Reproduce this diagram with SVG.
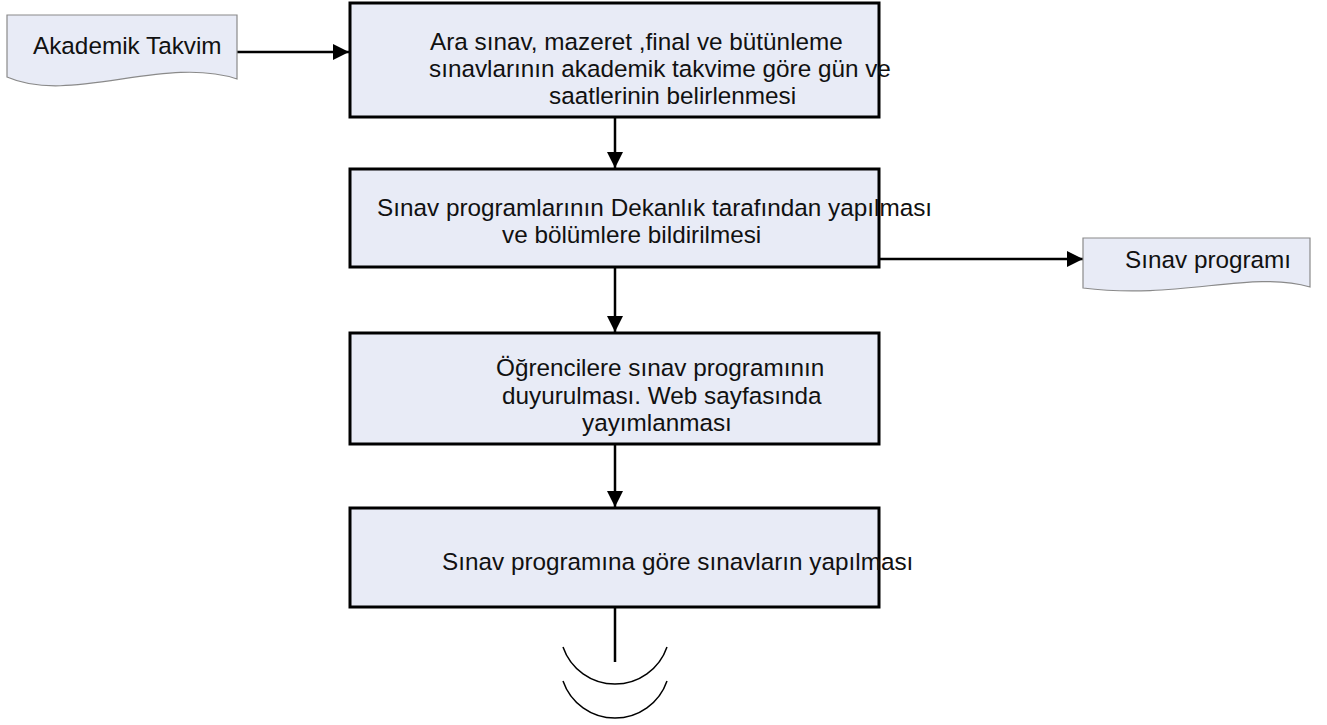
<svg xmlns="http://www.w3.org/2000/svg" width="1327" height="725" viewBox="0 0 1327 725">
  <style>
    .box { fill: #e8ebf6; stroke: #000; stroke-width: 3; }
    .doc { fill: #e8ebf6; stroke: #8a8a8a; stroke-width: 1.2; }
    .t { font-family: "Liberation Sans", Arial, sans-serif; font-size: 24.3px; fill: #111; }
    .c { fill: none; stroke: #000; stroke-width: 2.5; }
    .arc { fill: none; stroke: #000; stroke-width: 1.5; }
  </style>
  <defs>
    <marker id="ah" markerUnits="userSpaceOnUse" markerWidth="16" markerHeight="16" viewBox="0 0 16 16" refX="16" refY="8" orient="auto">
      <path d="M0,0 L16,8 L0,16 Z" fill="#000"/>
    </marker>
  </defs>

  <g id="connectors">
    <path class="c" d="M237,52 H349" marker-end="url(#ah)"/>
    <path class="c" d="M615,117 V168" marker-end="url(#ah)"/>
    <path class="c" d="M879,259 H1083" marker-end="url(#ah)"/>
    <path class="c" d="M615,267 V332" marker-end="url(#ah)"/>
    <path class="c" d="M615,444 V507" marker-end="url(#ah)"/>
    <path class="c" d="M615,607 V662"/>
  </g>

  <g id="akademik-takvim">
    <path class="doc" d="M7,15 H237 V79 C165,55 70,105 7,77 Z"/>
    <text class="t" x="33" y="54">Akademik Takvim</text>
  </g>

  <g id="box1">
    <rect class="box" x="350" y="3" width="529" height="114"/>
    <text class="t" x="430" y="50">Ara sınav, mazeret ,final ve bütünleme</text>
    <text class="t" x="429" y="77">sınavlarının akademik takvime göre gün ve</text>
    <text class="t" x="549" y="104">saatlerinin belirlenmesi</text>
  </g>

  <g id="box2">
    <rect class="box" x="350" y="169" width="529" height="98"/>
    <text class="t" x="377" y="216">Sınav programlarının Dekanlık tarafından yapılması</text>
    <text class="t" x="502" y="243">ve bölümlere bildirilmesi</text>
  </g>

  <g id="sinav-programi">
    <path class="doc" d="M1083,238 H1310 V287 C1250,270 1180,300 1083,288 Z"/>
    <text class="t" x="1125" y="268">Sınav programı</text>
  </g>

  <g id="box3">
    <rect class="box" x="350" y="333" width="529" height="111"/>
    <text class="t" x="496" y="376">Öğrencilere sınav programının</text>
    <text class="t" x="502" y="404">duyurulması. Web sayfasında</text>
    <text class="t" x="582" y="431">yayımlanması</text>
  </g>

  <g id="box4">
    <rect class="box" x="350" y="508" width="529" height="99"/>
    <text class="t" x="442" y="570">Sınav programına göre sınavların yapılması</text>
  </g>

  <g id="end-mark">
    <path class="arc" d="M563,647 A55,55 0 0 0 667,647"/>
    <path class="arc" d="M563,681 A55,55 0 0 0 667,681"/>
  </g>
</svg>
